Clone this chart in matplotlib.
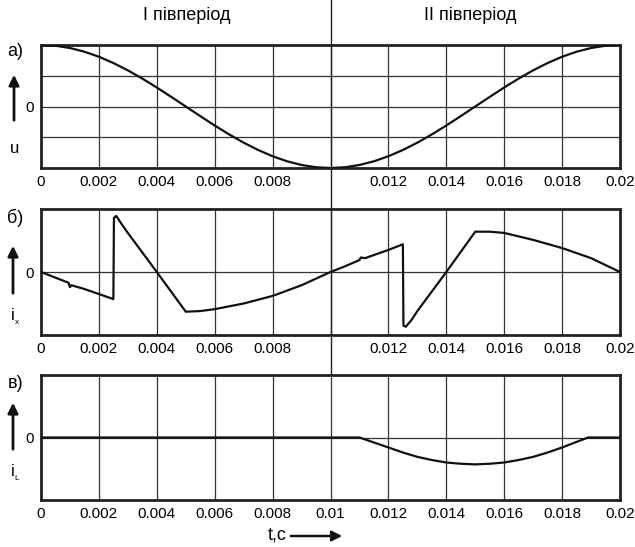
import matplotlib
matplotlib.use("Agg")
import matplotlib.pyplot as plt
import matplotlib.transforms as mtransforms
from matplotlib.lines import Line2D
from matplotlib.patches import FancyArrowPatch

plt.rcParams['font.family'] = ['Liberation Sans', 'DejaVu Sans']

# ---- data ----
u_t = [i * 0.0005 for i in range(41)]
u_v = [1.000, 0.988, 0.951, 0.891, 0.809, 0.707, 0.588, 0.454, 0.309, 0.156,
       0.000, -0.156, -0.309, -0.454, -0.588, -0.707, -0.809, -0.891, -0.951, -0.988,
       -1.000, -0.988, -0.951, -0.891, -0.809, -0.707, -0.588, -0.454, -0.309, -0.156,
       0.000, 0.156, 0.309, 0.454, 0.588, 0.707, 0.809, 0.891, 0.951, 0.988, 1.000]

ix_t = [0, 0.0005, 0.00095, 0.001, 0.00105, 0.0015, 0.002, 0.0025, 0.00252, 0.0026,
        0.0028, 0.003, 0.004, 0.005, 0.0055, 0.006, 0.007, 0.008, 0.009, 0.01,
        0.0105, 0.011, 0.01105, 0.0112, 0.0115, 0.012, 0.0125, 0.01252, 0.0126,
        0.0128, 0.013, 0.014, 0.015, 0.0155, 0.016, 0.017, 0.018, 0.019, 0.02]
ix_v = [0, -0.09, -0.17, -0.24, -0.21, -0.27, -0.35, -0.43, 0.86, 0.89,
        0.75, 0.62, 0.0, -0.63, -0.62, -0.59, -0.50, -0.38, -0.21, 0.0,
        0.09, 0.19, 0.23, 0.22, 0.27, 0.35, 0.44, -0.85, -0.87,
        -0.76, -0.62, 0.0, 0.64, 0.64, 0.62, 0.51, 0.38, 0.22, 0.0]

il_t = [0, 0.011, 0.0115, 0.012, 0.0125, 0.013, 0.0135, 0.014, 0.0145, 0.015,
        0.0155, 0.016, 0.0165, 0.017, 0.0175, 0.018, 0.0185, 0.0189, 0.02]
il_v = [0, 0, -0.08, -0.16, -0.24, -0.31, -0.36, -0.40, -0.42, -0.43,
        -0.42, -0.40, -0.36, -0.31, -0.24, -0.16, -0.07, 0, 0]

xticks = [0, 0.002, 0.004, 0.006, 0.008, 0.01, 0.012, 0.014, 0.016, 0.018, 0.02]
xlabels_full = ['0', '0.002', '0.004', '0.006', '0.008', '0.01',
                '0.012', '0.014', '0.016', '0.018', '0.02']
xlabels_nomid = [l if l != '0.01' else '' for l in xlabels_full]

W, H = 635, 547
fig = plt.figure(figsize=(W / 100, H / 100), dpi=100)

def box(l, t, r, b):
    return [l / W, 1 - b / H, (r - l) / W, (b - t) / H]

ax_a = fig.add_axes(box(41, 45, 620, 168))
ax_b = fig.add_axes(box(41, 209, 620, 335))
ax_c = fig.add_axes(box(41, 375, 620, 500))

grid_kw = dict(color='#333333', lw=0.9, zorder=1)

def style(ax, labels, ygrid):
    ax.set_xlim(0, 0.02)
    ax.set_ylim(-1, 1)
    ax.set_xticks(xticks)
    ax.set_xticklabels(labels)
    ax.set_yticks([0])
    ax.set_yticklabels(['0'])
    ax.tick_params(length=0, labelsize=11, pad=5)
    for x in xticks[1:-1]:
        ax.axvline(x, **grid_kw)
    for y in ygrid:
        ax.axhline(y, **grid_kw)
    for s in ax.spines.values():
        s.set_linewidth(2)
        s.set_color('#222222')

style(ax_a, xlabels_nomid, [-0.5, 0, 0.5])
style(ax_b, xlabels_nomid, [0])
style(ax_c, xlabels_full, [0])

line_kw = dict(color='#111111', lw=1.6, zorder=3)
ax_a.plot(u_t, u_v, **line_kw)
ax_b.plot(ix_t, ix_v, **line_kw)
ax_c.plot(il_t, il_v, **line_kw)

# divider line through 0.01
trans = mtransforms.blended_transform_factory(ax_a.transData, fig.transFigure)
fig.add_artist(Line2D([0.01, 0.01], [1.0, 1 - 375 / H], transform=trans,
                      color='#222222', lw=1.0))

def fx(x):
    return x / W

def fy(y):
    return 1 - y / H

# titles
fig.text(fx(187), fy(16), 'I півперіод', ha='center', va='center', fontsize=13)
fig.text(fx(470), fy(16), 'II півперіод', ha='center', va='center', fontsize=13)

def arrow(x0, y0, x1, y1, lw=2):
    fig.add_artist(FancyArrowPatch(
        (fx(x0), fy(y0)), (fx(x1), fy(y1)), transform=fig.transFigure,
        arrowstyle='-|>', mutation_scale=15, lw=lw, color='#111111'))

# panel labels
fig.text(fx(15.5), fy(52), 'а)', ha='center', va='center', fontsize=13)
fig.text(fx(15.5), fy(218), 'б)', ha='center', va='center', fontsize=13)
fig.text(fx(15.5), fy(384), 'в)', ha='center', va='center', fontsize=13)

arrow(14, 123, 14, 72)
arrow(13, 296, 13, 243)
arrow(13, 452, 13, 400)

fig.text(fx(15), fy(148), 'u', ha='center', va='center', fontsize=12)
fig.text(fx(13), fy(316), 'i', ha='center', va='center', fontsize=12)
fig.text(fx(14.5), fy(323), 'x', ha='left', va='center', fontsize=6)
fig.text(fx(13), fy(471), 'i', ha='center', va='center', fontsize=12)
fig.text(fx(14.5), fy(478), 'L', ha='left', va='center', fontsize=6)

fig.text(fx(287), fy(535), 't,c', ha='right', va='center', fontsize=13)
arrow(288, 536, 345, 536, lw=1.8)

fig.savefig('out.png', dpi=100)
